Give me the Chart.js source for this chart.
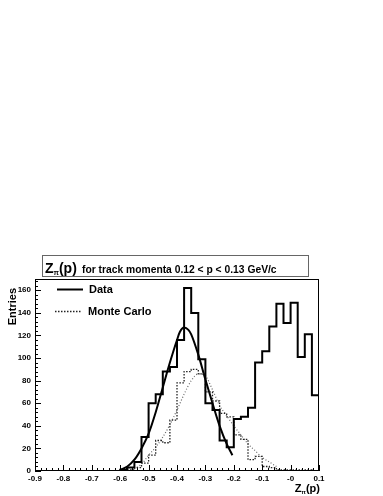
<!DOCTYPE html>
<html>
<head>
<meta charset="utf-8">
<script src="https://cdn.jsdelivr.net/npm/chart.js@4.4.0/dist/chart.umd.min.js"></script>
<style>
html, body { margin: 0; padding: 0; background: #fff; }
#wrap { width: 383px; height: 496px; position: relative; }
</style>
</head>
<body>
<div id="wrap"><canvas id="grafica"></canvas></div>
<script>
// lower edges of the 40 bins (width 0.025), last upper edge is 0.1
const binLow = [
  -0.9, -0.875, -0.85, -0.825, -0.8, -0.775, -0.75, -0.725, -0.7, -0.675,
  -0.65, -0.625, -0.6, -0.575, -0.55, -0.525, -0.5, -0.475, -0.45, -0.425,
  -0.4, -0.375, -0.35, -0.325, -0.3, -0.275, -0.25, -0.225, -0.2, -0.175,
  -0.15, -0.125, -0.1, -0.075, -0.05, -0.025, 0, 0.025, 0.05, 0.075
];
const lastEdge = 0.1;

const dataCounts = [
  0, 0, 0, 0, 0, 0, 0, 0, 0, 0,
  0, 0, 1, 3, 8, 30, 60, 68, 88, 92,
  116, 162, 140, 99, 60, 54, 27, 21, 46, 48,
  56, 96, 106, 128, 148, 131, 149, 101, 121, 67
];

const mcCounts = [
  0, 0, 0, 0, 0, 0, 0, 0, 0, 0,
  0, 0, 0, 1, 3, 7, 14, 27, 25, 45,
  78, 88, 90, 86, 70, 62, 51, 48, 32, 28,
  10, 13, 4, 3, 1, 1, 1, 1, 1, 0
];

// fitted curves
const dataFitX = [-0.6, -0.575, -0.55, -0.525, -0.5, -0.475, -0.45, -0.425, -0.4, -0.39, -0.375, -0.36, -0.35, -0.325, -0.3, -0.275, -0.25, -0.225, -0.205];
const dataFitY = [1, 4, 10, 20, 33, 52, 74, 96, 116, 123, 127, 125, 121, 103, 81, 60, 40, 24, 14];

const mcFitX = [-0.56, -0.525, -0.5, -0.475, -0.45, -0.425, -0.4, -0.375, -0.35, -0.325, -0.3, -0.275, -0.25, -0.225, -0.2, -0.175, -0.15, -0.125, -0.1, -0.075, -0.05];
const mcFitY = [1, 6, 14, 21, 30, 41, 54, 68, 80, 86, 84, 72, 58, 49, 40, 32, 24, 18, 12, 8, 4];

const xTickLabels = ['-0.9', '-0.8', '-0.7', '-0.6', '-0.5', '-0.4', '-0.3', '-0.2', '-0.1', '-0', '0.1'];
const yTickLabels = ['0', '20', '40', '60', '80', '100', '120', '140', '160'];

const FONT = '"Liberation Sans", Arial, Helvetica, sans-serif';

function histPoints(counts) {
  const pts = binLow.map((x, i) => ({ x: x, y: counts[i] }));
  pts.push({ x: lastEdge, y: counts[counts.length - 1] });
  return pts;
}

function zLabel(ctx, x, y, big, small, alignRight) {
  ctx.font = 'bold ' + big + 'px ' + FONT;
  const wZ = ctx.measureText('Z').width;
  const wP = ctx.measureText('(p)').width;
  ctx.font = 'bold ' + small + 'px ' + FONT;
  const wPi = ctx.measureText('\u03c0').width;
  let x0 = alignRight ? x - (wZ + wPi + wP) : x;
  ctx.textAlign = 'left';
  ctx.textBaseline = 'alphabetic';
  ctx.font = 'bold ' + big + 'px ' + FONT;
  ctx.fillText('Z', x0, y);
  ctx.font = 'bold ' + small + 'px ' + FONT;
  ctx.fillText('\u03c0', x0 + wZ, y + 2);
  ctx.font = 'bold ' + big + 'px ' + FONT;
  ctx.fillText('(p)', x0 + wZ + wPi, y);
  return x0 + wZ + wPi + wP;
}

const rootStyle = {
  id: 'rootStyle',
  afterDatasetsDraw(chart) {
    const { ctx, chartArea: a, scales: { x, y } } = chart;
    ctx.save();
    ctx.fillStyle = '#000';
    ctx.strokeStyle = '#000';
    ctx.lineWidth = 1;
    ctx.setLineDash([]);
    ctx.strokeRect(a.left + 0.5, a.top + 0.5, a.right - a.left - 1, a.bottom - a.top - 1);

    ctx.beginPath();
    for (let k = 0; k <= 50; k++) {
      const px = Math.round(x.getPixelForValue(-0.9 + k * 0.02)) + 0.5;
      const len = k % 5 === 0 ? 6 : 3;
      ctx.moveTo(px, a.bottom);
      ctx.lineTo(px, a.bottom - len);
    }
    for (let v = 0; v <= 170; v += 4) {
      const py = Math.round(y.getPixelForValue(v)) + 0.5;
      const len = v % 20 === 0 ? 6 : 3;
      ctx.moveTo(a.left, py);
      ctx.lineTo(a.left + len, py);
    }
    ctx.stroke();

    // title box
    ctx.fillStyle = '#fff';
    ctx.fillRect(42, 255, 266, 21);
    ctx.strokeStyle = '#666';
    ctx.strokeRect(42.5, 255.5, 266, 21);
    ctx.fillStyle = '#000';
    zLabel(ctx, 45, 273, 14, 7, false);
    ctx.font = 'bold 10.3px ' + FONT;
    ctx.fillText('for track momenta 0.12 < p < 0.13 GeV/c', 82, 273);

    // axis titles
    zLabel(ctx, 320, 492, 11, 6, true);
    ctx.save();
    ctx.translate(16, 288);
    ctx.rotate(-Math.PI / 2);
    ctx.textAlign = 'right';
    ctx.font = 'bold 11px ' + FONT;
    ctx.fillText('Entries', 0, 0);
    ctx.restore();

    // legend
    const items = [
      { ds: chart.data.datasets[0], y: 289.5, x1: 57, x2: 83, tx: 89 },
      { ds: chart.data.datasets[1], y: 311.5, x1: 55, x2: 82, tx: 88 }
    ];
    items.forEach(it => {
      ctx.strokeStyle = it.ds.borderColor;
      ctx.lineWidth = it.ds.borderWidth;
      ctx.setLineDash(it.ds.borderDash || []);
      ctx.beginPath();
      ctx.moveTo(it.x1, it.y);
      ctx.lineTo(it.x2, it.y);
      ctx.stroke();
      ctx.setLineDash([]);
      ctx.fillStyle = '#000';
      ctx.font = 'bold 11px ' + FONT;
      ctx.textAlign = 'left';
      ctx.textBaseline = 'middle';
      ctx.fillText(it.ds.label, it.tx, it.y);
    });
    ctx.restore();
  }
};

new Chart(document.getElementById('grafica'), {
  type: 'line',
  data: {
    datasets: [
      {
        label: 'Data',
        data: histPoints(dataCounts),
        stepped: 'before',
        borderColor: '#000',
        borderWidth: 2,
        pointRadius: 0,
        fill: false
      },
      {
        label: 'Monte Carlo',
        data: histPoints(mcCounts),
        stepped: 'before',
        borderColor: '#222',
        borderWidth: 1.3,
        borderDash: [1.5, 1.5],
        pointRadius: 0,
        fill: false
      },
      {
        label: 'Data fit',
        data: dataFitX.map((x, i) => ({ x: x, y: dataFitY[i] })),
        borderColor: '#000',
        borderWidth: 2,
        pointRadius: 0,
        cubicInterpolationMode: 'monotone',
        fill: false
      },
      {
        label: 'MC fit',
        data: mcFitX.map((x, i) => ({ x: x, y: mcFitY[i] })),
        borderColor: '#666',
        borderWidth: 1.2,
        borderDash: [1, 2],
        pointRadius: 0,
        cubicInterpolationMode: 'monotone',
        fill: false
      }
    ]
  },
  options: {
    responsive: true,
    maintainAspectRatio: false,
    animation: false,
    layout: { padding: { top: 279, right: 64, left: 0, bottom: 0 } },
    plugins: {
      legend: { display: false },
      tooltip: { enabled: false },
      title: { display: false }
    },
    scales: {
      x: {
        type: 'linear',
        min: -0.9,
        max: 0.1,
        offset: false,
        afterFit: s => { s.height = 25; },
        grid: { display: false, drawTicks: false },
        border: { display: false },
        ticks: {
          stepSize: 0.1,
          padding: 3,
          maxRotation: 0,
          autoSkip: false,
          color: '#000',
          font: { family: FONT, size: 8, weight: 'bold' },
          callback: v => xTickLabels[Math.round((v + 0.9) * 10)]
        }
      },
      y: {
        min: 0,
        max: 170,
        afterFit: s => { s.width = 35; },
        grid: { display: false, drawTicks: false },
        border: { display: false },
        ticks: {
          stepSize: 20,
          padding: 4,
          color: '#000',
          font: { family: FONT, size: 8, weight: 'bold' },
          callback: v => (v % 20 === 0 ? yTickLabels[v / 20] : '')
        }
      }
    }
  },
  plugins: [rootStyle]
});
</script>
</body>
</html>
